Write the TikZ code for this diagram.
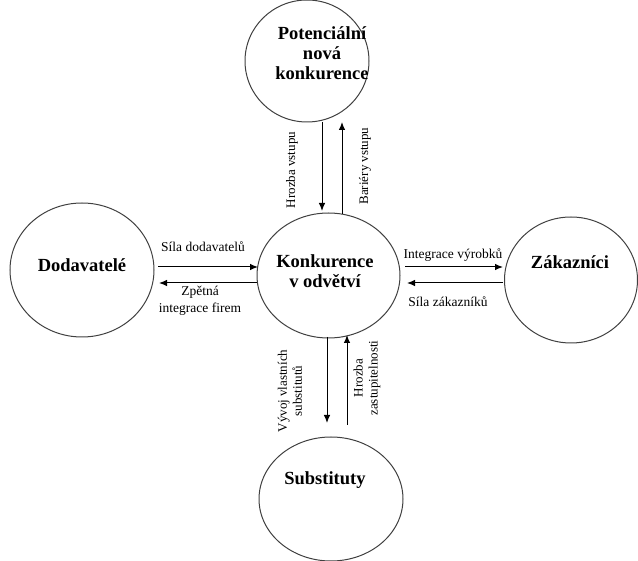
\documentclass[tikz,border=0pt]{standalone}
\usepackage{fontspec}
\setmainfont{Liberation Serif}
\usetikzlibrary{arrows.meta,shapes.geometric}
\begin{document}
\begin{tikzpicture}[x=1pt,y=-1pt,
  force/.style={ellipse,draw=black!75,line width=1pt,inner sep=0pt},
  title/.style={font=\fontsize{18.5}{20}\selectfont\bfseries,align=center,inner sep=0pt},
  lab/.style={font=\fontsize{13.5}{17}\selectfont,align=center,inner sep=0pt},
  vlab/.style={font=\fontsize{13}{15}\selectfont,align=center,inner sep=0pt,rotate=90},
  arr/.style={-{Latex[length=8pt,width=6.5pt]},line width=1pt}]
\useasboundingbox (0,0) rectangle (638,561);
% ellipses
\node[force,minimum width=124pt,minimum height=122pt] (pot) at (307,61) {};
\node[force,minimum width=144pt,minimum height=134pt] (dod) at (82,270) {};
\node[force,minimum width=143pt,minimum height=125pt] (kon) at (328.5,275.5) {};
\node[force,minimum width=133pt,minimum height=126pt] (zak) at (571,280) {};
\node[force,minimum width=144pt,minimum height=124pt] (sub) at (331,499) {};
% titles
\node[title] (tpot) at (322,53) {Potenciální\\nová\\konkurence};
\node[title] (tdod) at (82,265) {Dodavatelé};
\node[title] (tkon) at (325,271) {Konkurence\\v odvětví};
\node[title] (tzak) at (570,262) {Zákazníci};
\node[title] (tsub) at (325,480) {Substituty};
% connector end points
\coordinate (l1a) at (158,267); \coordinate (l1b) at (258,267);
\coordinate (l2a) at (257,283); \coordinate (l2b) at (159,283);
\coordinate (r1a) at (405,267); \coordinate (r1b) at (503,267);
\coordinate (r2a) at (503,283); \coordinate (r2b) at (407,283);
\coordinate (t1a) at (322,122); \coordinate (t1b) at (322,211);
\coordinate (t2a) at (342,214); \coordinate (t2b) at (342,122);
\coordinate (b1a) at (327,337); \coordinate (b1b) at (327,423);
\coordinate (b2a) at (347,425); \coordinate (b2b) at (347,335);
% connectors
\draw[arr] (l1a) -- (l1b);
\draw[arr] (l2a) -- (l2b);
\draw[arr] (r1a) -- (r1b);
\draw[arr] (r2a) -- (r2b);
\draw[arr] (t1a) -- (t1b);
\draw[arr] (t2a) -- (t2b);
\draw[arr] (b1a) -- (b1b);
\draw[arr] (b2a) -- (b2b);
% labels
\node[lab] (ld1) at (203,247) {Síla dodavatelů};
\node[lab] (ld2) at (200,301) {Zpětná\\integrace firem};
\node[lab] (lr1) at (453,255) {Integrace výrobků};
\node[lab] (lr2) at (448,302) {Síla zákazníků};
\node[vlab] (lt1) at (292,170) {Hrozba vstupu};
\node[vlab] (lt2) at (365,166) {Bariéry vstupu};
\node[vlab] (lb1) at (290,391) {Vývoj vlastních\\substitutů};
\node[vlab] (lb2) at (367,378) {Hrozba\\zastupitelnosti};
\end{tikzpicture}
\end{document}
